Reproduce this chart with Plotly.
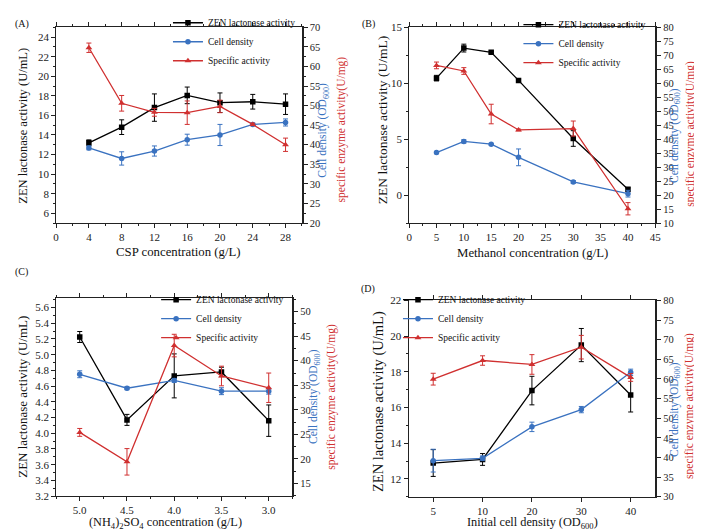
import plotly.graph_objects as go

W, H = 702, 531
FONT = "'Liberation Serif', 'Times New Roman', Times, serif"
BLACK = "#000000"
BLUE = "#3a72c0"
RED = "#d03030"

# ---------------- data ----------------
# Panel A: CSP concentration
a_x = [4, 8, 12, 16, 20, 24, 28]
a_zen = [13.2, 14.8, 16.8, 18.05, 17.3, 17.4, 17.15]
a_zen_err = [0.3, 0.75, 1.4, 0.85, 1.0, 0.75, 1.05]
a_cell = [39.2, 36.5, 38.4, 41.3, 42.5, 45.2, 45.7]
a_cell_err = [0.5, 1.7, 1.3, 1.4, 2.7, 0.3, 0.9]
a_spec = [64.8, 50.6, 48.3, 48.2, 49.8, 45.2, 40.0]
a_spec_err = [1.2, 2.0, 1.0, 3.0, 1.6, 0.3, 1.7]

# Panel B: Methanol concentration
b_x = [5, 10, 15, 20, 30, 40]
b_zen = [10.46, 13.15, 12.77, 10.26, 5.06, 0.52]
b_zen_err = [0.25, 0.35, 0.1, 0.1, 0.7, 0.12]
b_cell = [35.2, 39.2, 38.2, 33.5, 24.7, 20.5]
b_cell_err = [0.4, 0.6, 0.3, 3.0, 0.5, 1.2]
b_spec = [66.4, 64.4, 49.0, 43.3, 43.8, 15.1]
b_spec_err = [1.2, 1.2, 3.5, 0.3, 2.7, 2.2]

# Panel C: (NH4)2SO4 concentration
c_x = [5.0, 4.5, 4.0, 3.5, 3.0]
c_zen = [5.225, 4.17, 4.73, 4.78, 4.16]
c_zen_err = [0.07, 0.07, 0.28, 0.06, 0.2]
c_cell = [37.25, 34.4, 36.0, 33.8, 33.8]
c_cell_err = [0.7, 0.3, 0.4, 0.7, 0.6]
c_spec = [25.4, 19.4, 43.1, 36.9, 34.5]
c_spec_err = [0.8, 2.7, 2.3, 2.0, 3.0]

# Panel D: initial cell density
d_x = ["5", "10", "20", "30", "40"]
d_zen = [12.89, 13.09, 16.95, 19.5, 16.7]
d_zen_err = [0.75, 0.33, 0.8, 0.93, 0.95]
d_cell = [39.2, 39.8, 47.8, 52.2, 61.7]
d_cell_err = [2.9, 0.6, 1.2, 0.8, 0.8]
d_spec = [59.95, 64.7, 63.7, 68.1, 60.4]
d_spec_err = [1.5, 1.2, 2.5, 3.0, 1.0]

series_names = ["ZEN lactonase activity", "Cell density", "Specific activity"]

fig = go.Figure()


def px2x(p):
    return p / W


def px2y(p):
    return 1 - p / H


def add_panel(k, xs, zen, zen_e, cell, cell_e, spec, spec_e, legend_name):
    xa = "x" if k == 1 else f"x{k}"
    yl = f"y{2*k-1}" if k > 1 else "y"
    yr = f"y{2*k}"
    common = dict(mode="lines+markers", legend=legend_name)
    fig.add_trace(go.Scatter(
        x=xs, y=zen, name=series_names[0], xaxis=xa, yaxis=yl,
        line=dict(color=BLACK, width=1.3),
        marker=dict(symbol="square", size=5.5, color=BLACK),
        error_y=dict(type="data", array=zen_e, color=BLACK, thickness=1, width=2.5),
        **common))
    fig.add_trace(go.Scatter(
        x=xs, y=cell, name=series_names[1], xaxis=xa, yaxis=yr,
        line=dict(color=BLUE, width=1.3),
        marker=dict(symbol="circle", size=5.5, color=BLUE),
        error_y=dict(type="data", array=cell_e, color=BLUE, thickness=1, width=2.5),
        **common))
    fig.add_trace(go.Scatter(
        x=xs, y=spec, name=series_names[2], xaxis=xa, yaxis=yr,
        line=dict(color=RED, width=1.3),
        marker=dict(symbol="triangle-up", size=6, color=RED),
        error_y=dict(type="data", array=spec_e, color=RED, thickness=1, width=2.5),
        **common))


add_panel(1, a_x, a_zen, a_zen_err, a_cell, a_cell_err, a_spec, a_spec_err, "legend")
add_panel(2, b_x, b_zen, b_zen_err, b_cell, b_cell_err, b_spec, b_spec_err, "legend2")
add_panel(3, c_x, c_zen, c_zen_err, c_cell, c_cell_err, c_spec, c_spec_err, "legend3")
add_panel(4, d_x, d_zen, d_zen_err, d_cell, d_cell_err, d_spec, d_spec_err, "legend4")

tickfont = dict(family=FONT, size=11, color="#222222")
axbase = dict(showline=True, linecolor="#222222", linewidth=1, ticks="outside",
              ticklen=4, tickwidth=1, tickcolor="#222222", showgrid=False,
              zeroline=False, tickfont=tickfont)
minor = dict(ticks="outside", ticklen=2, tickcolor="#222222")

# panel pixel boxes: (left, right, top, bottom)
boxes = {
    1: (45.7, 294.7, 10.7, 212.0),
    2: (403.3, 652.7, 10.7, 212.0),
    3: (45.7, 285.0, 289.3, 493.0),
    4: (402.7, 652.7, 291.7, 493.7),
}

x_specs = {
    1: dict(range=[0, 30], dtick=4, tick0=0, minor=dict(dtick=2, **minor)),
    2: dict(range=[0, 45], dtick=5, tick0=0, minor=dict(dtick=2.5, **minor)),
    3: dict(range=[5.25, 2.75], dtick=0.5, tick0=3, tickformat=".1f", minor=dict(dtick=0.25, **minor)),
    4: dict(type="category", range=[-0.5, 4.5]),
}
yl_specs = {
    1: dict(range=[5, 25], dtick=2, tick0=0, minor=dict(dtick=1, **minor)),
    2: dict(range=[-2.5, 15], dtick=5, tick0=0, minor=dict(dtick=2.5, **minor)),
    3: dict(range=[3.2, 5.72], dtick=0.2, tick0=3.2, tickformat=".1f", minor=dict(dtick=0.1, **minor)),
    4: dict(range=[11, 22], dtick=2, tick0=0, minor=dict(dtick=1, **minor)),
}
yr_specs = {
    1: dict(range=[20, 70], dtick=5, tick0=0, minor=dict(dtick=2.5, **minor)),
    2: dict(range=[10, 80], dtick=5, tick0=0),
    3: dict(range=[12.42, 52.77], dtick=5, tick0=0, minor=dict(dtick=2.5, **minor)),
    4: dict(range=[30, 80], dtick=5, tick0=0),
}

lay = {}
for k in range(1, 5):
    l, r, t, b = boxes[k]
    xn = "xaxis" if k == 1 else f"xaxis{k}"
    yln = "yaxis" if k == 1 else f"yaxis{2*k-1}"
    yrn = f"yaxis{2*k}"
    ylref = "y" if k == 1 else f"y{2*k-1}"
    xref = "x" if k == 1 else f"x{k}"
    lay[xn] = dict(axbase, domain=[px2x(l), px2x(r)], anchor=ylref, mirror="ticks", **x_specs[k])
    lay[yln] = dict(axbase, domain=[px2y(b), px2y(t)], anchor=xref, **yl_specs[k])
    lay[yrn] = dict(axbase, domain=[px2y(b), px2y(t)], anchor=xref, overlaying=ylref,
                    side="right", linewidth=1.5,
                    **dict(yr_specs[k], tickfont=dict(family=FONT, size=10.5, color="#222222")))

leg_common = dict(font=dict(family=FONT, size=9.5, color="#111111"), bgcolor="rgba(0,0,0,0)",
                  itemwidth=30, xanchor="left", yanchor="top", tracegroupgap=0)
lay["legend"] = dict(leg_common, x=px2x(159), y=px2y(-9))
lay["legend2"] = dict(leg_common, x=px2x(514), y=px2y(-7))
lay["legend3"] = dict(leg_common, x=px2x(147), y=px2y(276))
lay["legend4"] = dict(leg_common, x=px2x(392), y=px2y(276))

ann = []


def text(x, y, s, color="#111111", size=12, angle=0):
    ann.append(dict(x=px2x(x), y=px2y(y), xref="paper", yref="paper", text=s,
                    showarrow=False, textangle=angle, xanchor="center", yanchor="middle",
                    font=dict(family=FONT, size=size, color=color)))


# panel letters
text(11, 7, "(A)", size=10)
text(362, 7, "(B)", size=10)
text(11, 262, "(C)", size=10)
text(362, 280, "(D)", size=10)

# x titles
text(170, 242, "CSP concentration (g/L)", size=12.8)
text(528, 243, "Methanol concentration (g/L)", size=12.8)
text(157, 521, "(NH<sub>4</sub>)<sub>2</sub>SO<sub>4</sub> concentration (g/L)", size=12.3)
text(528, 521, "Initial cell density (OD<sub>600</sub>)", size=12.3)

# left y titles
text(12, 112, "ZEN lactonase activity (U/mL)", size=12.5, angle=-90)
text(376, 106, "ZEN lactonase activity (U/mL)", size=13.5, angle=-90)
text(12, 391, "ZEN lactonase activity (U/mL)", size=13, angle=-90)
text(373, 396, "ZEN lactonase activity (U/mL)", size=14.5, angle=-90)

# right y titles: (blue x, red x, blue y, red y)
right_titles = [(316, 335, 116, 116), (672, 688, 122, 120), (307, 325, 391, 391), (672, 688, 404, 400)]
for bx, rx, by, ry in right_titles:
    text(bx, by, "Cell density (OD<sub>600</sub>)", color=BLUE, size=11.5, angle=-90)
    text(rx, ry, "specific enzyme activity(U/mg)", color=RED, size=11.5, angle=-90)

fig.update_layout(
    width=W, height=H, margin=dict(l=0, r=0, t=0, b=0),
    paper_bgcolor="white", plot_bgcolor="white",
    font=dict(family=FONT, color="#111111"),
    annotations=ann, showlegend=True,
    **lay,
)

fig.write_html("out.html")
